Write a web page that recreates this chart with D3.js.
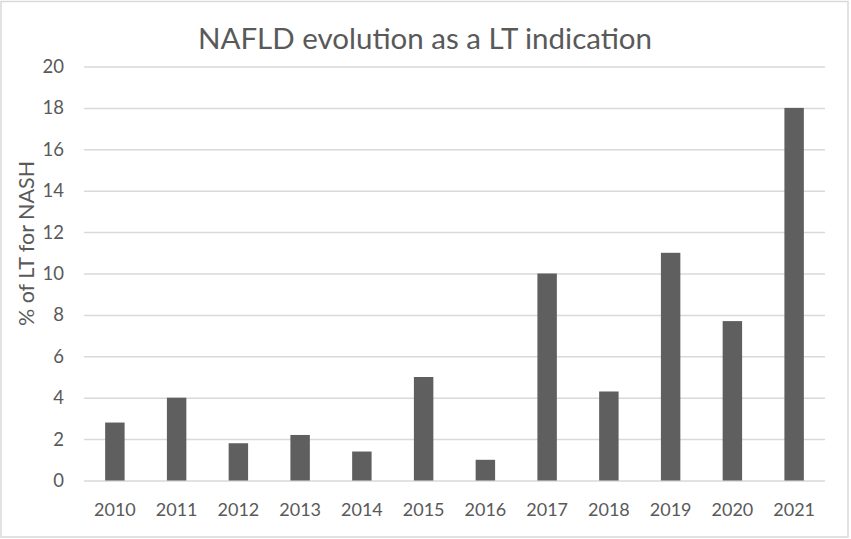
<!DOCTYPE html>
<html>
<head>
<meta charset="utf-8">
<script src="https://cdn.jsdelivr.net/npm/d3@7/dist/d3.min.js"></script>
<style>
  html, body { margin: 0; padding: 0; background: #fff; }
  svg { display: block; }
  text { font-family: Lato, "Open Sans", sans-serif; fill: #595959; }
</style>
</head>
<body>
<svg id="chart" width="851" height="539"></svg>
<script>
// Share of liver transplants performed for NASH, by year
const years = ["2010", "2011", "2012", "2013", "2014", "2015", "2016", "2017", "2018", "2019", "2020", "2021"];
const nashShare = [2.8, 4.0, 1.8, 2.2, 1.4, 5.0, 1.0, 10.0, 4.3, 11.0, 7.7, 18.0];
const yTicks = [0, 2, 4, 6, 8, 10, 12, 14, 16, 18, 20];
const chartTitle = "NAFLD evolution as a LT indication";
const yTitle = "% of LT for NASH";

const W = 851, H = 539;
const plot = { left: 84, right: 825, top: 66.5, bottom: 480.5 };

const svg = d3.select("#chart");

// outer frame
svg.append("rect")
  .attr("x", 1).attr("y", 1.5).attr("width", W - 4).attr("height", H - 3.5)
  .attr("fill", "#fff").attr("stroke", "#d9d9d9").attr("stroke-width", 1.5);

const x = d3.scaleBand().domain(years).range([plot.left, plot.right]).paddingInner(0.685).paddingOuter(0.3425);
const y = d3.scaleLinear().domain([0, 20]).range([plot.bottom, plot.top]);

// horizontal gridlines + tick labels
const yAxis = d3.axisLeft(y).tickValues(yTicks).tickSize(-(plot.right - plot.left)).tickPadding(20);
const gy = svg.append("g").attr("transform", `translate(${plot.left},0)`).call(yAxis);
gy.select(".domain").remove();
gy.selectAll(".tick line").attr("stroke", "#d9d9d9").attr("stroke-width", 1.5);
gy.selectAll(".tick text").attr("font-size", 18.5).attr("fill", "#595959")
  .style("font-family", "Lato, 'Open Sans', sans-serif");

// bars
svg.append("g").selectAll("rect").data(years).join("rect")
  .attr("x", d => x(d))
  .attr("width", x.bandwidth())
  .attr("y", (d, i) => y(nashShare[i]))
  .attr("height", (d, i) => y(0) - y(nashShare[i]))
  .attr("fill", "#5f5f5f");

// category axis
const xAxis = d3.axisBottom(x).tickSize(0).tickPadding(23);
const gx = svg.append("g").attr("transform", `translate(0,${plot.bottom})`).call(xAxis);
gx.select(".domain").remove();
gx.selectAll(".tick text").attr("font-size", 18).attr("fill", "#595959")
  .style("font-family", "Lato, 'Open Sans', sans-serif");

// title
svg.append("text")
  .attr("x", 425).attr("y", 49)
  .attr("text-anchor", "middle")
  .attr("font-size", 29.5)
  .text(chartTitle);

// y axis title
svg.append("text")
  .attr("transform", "translate(34,243.5) rotate(-90)")
  .attr("text-anchor", "middle")
  .attr("font-size", 21.5)
  .text(yTitle);
</script>
</body>
</html>
